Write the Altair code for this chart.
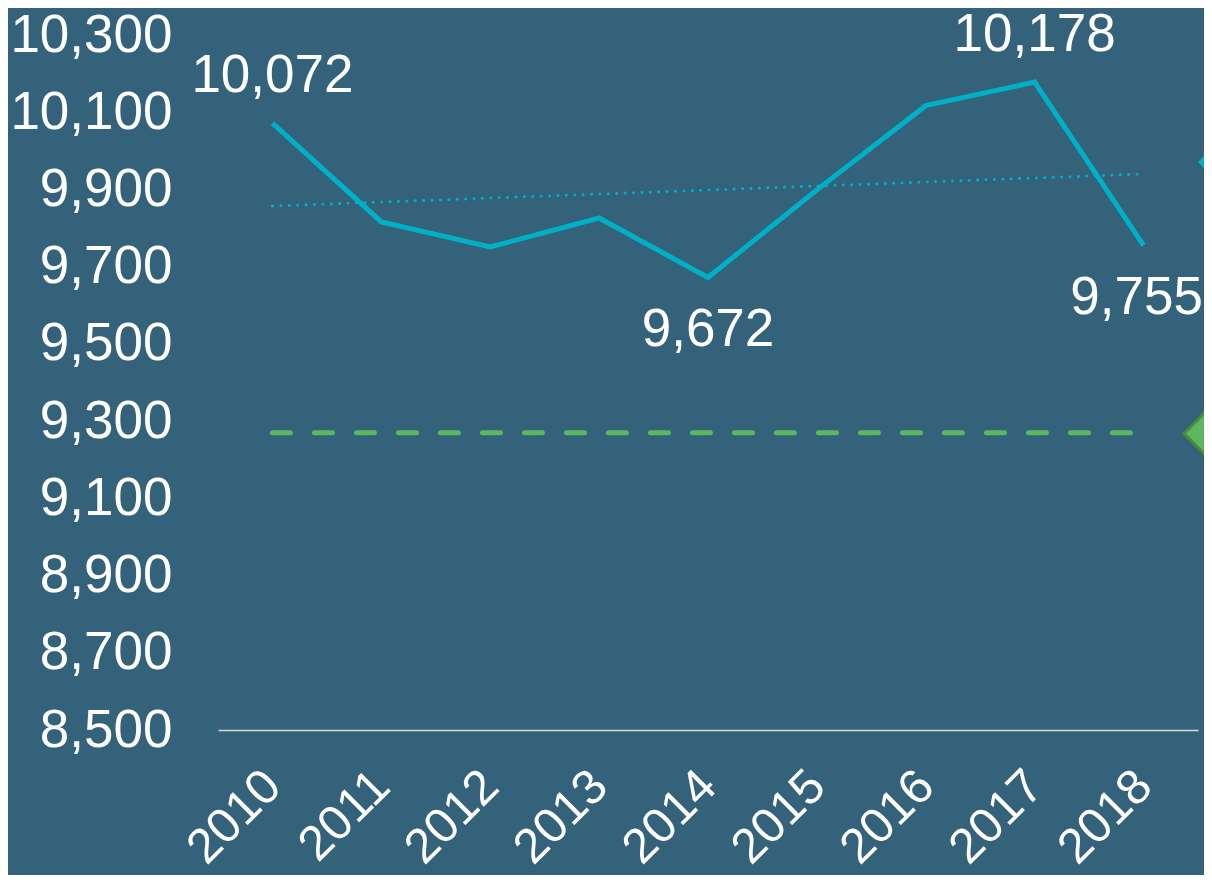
import altair as alt
import pandas as pd

# ---- data ----
years = [2010, 2011, 2012, 2013, 2014, 2015, 2016, 2017, 2018]
values = [10072, 9816, 9751, 9826, 9672, 9899, 10117, 10178, 9755]
labels_above = [2010, 2017]
labels_below = [2014]
labels_below_edge = [2018]
benchmark_value = 9270
benchmark_start = 2010
benchmark_end = 2018
marker_x = 2018.6
teal_marker_value = 9971
green_marker_value = 9268
y_ticks = list(range(8500, 10301, 200))

BG = "#33627A"
TEAL = "#00B0C6"
GREEN = "#5CB85F"
GREEN_DARK = "#4A8A3A"
FONT = "Liberation Sans"

df = pd.DataFrame({"year": years, "value": values})
above_df = df[df["year"].isin(labels_above)]
below_df = df[df["year"].isin(labels_below)]
edge_df = df[df["year"].isin(labels_below_edge)]
bench_df = pd.DataFrame({"start": [benchmark_start], "end": [benchmark_end], "value": [benchmark_value]})
teal_df = pd.DataFrame({"x": [marker_x], "value": [teal_marker_value]})
green_df = pd.DataFrame({"x": [marker_x], "value": [green_marker_value]})

xscale = alt.Scale(domain=[2009.5, 2018.5], nice=False, zero=False)
yscale = alt.Scale(domain=[8500, 10300], nice=False, zero=False)

xaxis = alt.Axis(values=years, format="d", title=None, labelAngle=-45, labelAlign="right",
                 labelBaseline="middle", labelPadding=48, labelFontSize=49, labelColor="white",
                 labelFont=FONT, ticks=False, grid=False, domain=True, domainColor="#D9D9D9",
                 domainWidth=1.5, labelOverlap=False)
yaxis = alt.Axis(values=y_ticks, format=",.0f", title=None, labelFontSize=53, labelColor="white",
                 labelFont=FONT, labelPadding=46, ticks=False, grid=False, domain=False,
                 labelOverlap=False)

base = alt.Chart(df)

line = base.mark_line(color=TEAL, strokeWidth=5, strokeJoin="miter").encode(
    x=alt.X("year:Q", scale=xscale, axis=xaxis),
    y=alt.Y("value:Q", scale=yscale, axis=yaxis),
)

trend = base.transform_regression("year", "value").mark_line(
    color=TEAL, strokeWidth=3, strokeDash=[0.1, 8.3], strokeCap="round"
).encode(x=alt.X("year:Q", scale=xscale), y=alt.Y("value:Q", scale=yscale))

bench = alt.Chart(bench_df).mark_rule(color=GREEN, strokeWidth=5, strokeDash=[18, 24],
                                     strokeCap="round").encode(
    x=alt.X("start:Q", scale=xscale), x2="end:Q", y=alt.Y("value:Q", scale=yscale))

txt_above = alt.Chart(above_df).mark_text(fontSize=53, font=FONT, color="white", dy=-47).encode(
    x=alt.X("year:Q", scale=xscale), y=alt.Y("value:Q", scale=yscale),
    text=alt.Text("value:Q", format=","))
txt_below = alt.Chart(below_df).mark_text(fontSize=53, font=FONT, color="white", dy=53).encode(
    x=alt.X("year:Q", scale=xscale), y=alt.Y("value:Q", scale=yscale),
    text=alt.Text("value:Q", format=","))
txt_edge = alt.Chart(edge_df).mark_text(fontSize=53, font=FONT, color="white", dy=53, dx=-7).encode(
    x=alt.X("year:Q", scale=xscale), y=alt.Y("value:Q", scale=yscale),
    text=alt.Text("value:Q", format=","))

teal_mark = alt.Chart(teal_df).mark_point(shape="diamond", filled=True, size=484, color=TEAL,
                                          opacity=1).encode(
    x=alt.X("x:Q", scale=xscale), y=alt.Y("value:Q", scale=yscale))
green_mark = alt.Chart(green_df).mark_point(shape="diamond", filled=True, size=2500, fill=GREEN,
                                            stroke=GREEN_DARK, strokeWidth=3, opacity=1).encode(
    x=alt.X("x:Q", scale=xscale), y=alt.Y("value:Q", scale=yscale))

chart = alt.layer(bench, trend, line, txt_above, txt_below, txt_edge, teal_mark, green_mark).properties(
    width=980, height=695,
    autosize=alt.AutoSizeParams(type="none"),
    padding={"left": 210, "top": 27, "right": 6, "bottom": 145},
    background=BG,
).configure_view(strokeWidth=0)

chart.save("out.html", embed_options={"renderer": "svg", "actions": False})
